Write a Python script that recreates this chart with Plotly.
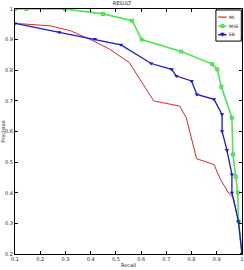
import plotly.graph_objects as go

title_text = "RESULT"
x_label = "Recall"
y_label = "Precision"

names = ["MI", "MSE", "EB"]
colors = ["#e3262b", "#4ee84e", "#1a1ad0"]

mi_recall = [0.1, 0.24, 0.32, 0.41, 0.475, 0.52, 0.553, 0.65, 0.753, 0.779, 0.82, 0.889, 0.915, 0.947, 0.966, 0.986, 1.0]
mi_precision = [0.953, 0.945, 0.929, 0.896, 0.869, 0.842, 0.825, 0.70, 0.683, 0.645, 0.511, 0.492, 0.443, 0.399, 0.383, 0.306, 0.2]

mse_recall = [0.1, 0.145, 0.298, 0.449, 0.565, 0.602, 0.759, 0.882, 0.902, 0.918, 0.96, 0.964, 0.975, 0.983, 0.986, 1.0]
mse_precision = [1.0, 1.0, 1.0, 0.984, 0.962, 0.90, 0.861, 0.82, 0.803, 0.746, 0.645, 0.525, 0.453, 0.401, 0.306, 0.2]

eb_recall = [0.1, 0.275, 0.417, 0.52, 0.64, 0.721, 0.74, 0.80, 0.821, 0.889, 0.921, 0.921, 0.94, 0.96, 0.96, 0.986, 1.0]
eb_precision = [0.953, 0.924, 0.902, 0.883, 0.822, 0.803, 0.781, 0.765, 0.721, 0.705, 0.656, 0.601, 0.54, 0.46, 0.40, 0.306, 0.2]

x_ticks = [0.1, 0.2, 0.3, 0.4, 0.5, 0.6, 0.7, 0.8, 0.9, 1.0]
x_tick_labels = ["0.1", "0.2", "0.3", "0.4", "0.5", "0.6", "0.7", "0.8", "0.9", "1"]
y_ticks = [0.2, 0.3, 0.4, 0.5, 0.6, 0.7, 0.8, 0.9, 1.0]
y_tick_labels = ["0.2", "0.3", "0.4", "0.5", "0.6", "0.7", "0.8", "0.9", "1"]

fig = go.Figure()
fig.add_trace(go.Scatter(x=mi_recall, y=mi_precision, name=names[0], mode="lines",
                         line=dict(color=colors[0], width=1)))
fig.add_trace(go.Scatter(x=mse_recall, y=mse_precision, name=names[1], mode="lines+markers",
                         line=dict(color=colors[1], width=1.6),
                         marker=dict(symbol="square-open", size=3, color="#3ad63a")))
fig.add_trace(go.Scatter(x=eb_recall, y=eb_precision, name=names[2], mode="lines+markers",
                         line=dict(color=colors[2], width=1.3),
                         marker=dict(symbol="triangle-down", size=4, color=colors[2])))

font = dict(family="DejaVu Sans", size=5, color="#222")
leg_font = dict(family="DejaVu Sans", size=4.5, color="#222")
axis_common = dict(showgrid=False, zeroline=False, showline=True, linecolor="black", linewidth=1,
                   mirror="ticks", ticks="inside", ticklen=3, tickcolor="black", tickfont=font)

# compact MATLAB-style legend box (paper coordinates)
shapes = [dict(type="rect", xref="paper", yref="paper", x0=0.885, x1=0.997, y0=0.869, y1=0.996,
               line=dict(color="black", width=1), fillcolor="white", layer="above")]
annotations = []
leg_y = [0.967, 0.930, 0.895]
for i, (nm, c) in enumerate(zip(names, colors)):
    yy = leg_y[i]
    shapes.append(dict(type="line", xref="paper", yref="paper", x0=0.895, x1=0.932, y0=yy, y1=yy,
                       line=dict(color=c, width=1.2 if i == 0 else 1.5), layer="above"))
    annotations.append(dict(text=nm, xref="paper", yref="paper", x=0.936, y=yy, xanchor="left",
                            yanchor="middle", showarrow=False, font=leg_font))
# legend marker glyphs
shapes.append(dict(type="rect", xref="paper", yref="paper", x0=0.908, x1=0.920, y0=leg_y[1] - 0.006,
                   y1=leg_y[1] + 0.006, line=dict(color="#3ad63a", width=1), layer="above"))
shapes.append(dict(type="path", xref="paper", yref="paper",
                   path=f"M 0.906 {leg_y[2] + 0.007} L 0.922 {leg_y[2] + 0.007} L 0.914 {leg_y[2] - 0.007} Z",
                   fillcolor=colors[2], line=dict(color=colors[2], width=0.5), layer="above"))

fig.update_layout(
    width=244, height=270,
    margin=dict(l=10, r=1, t=9, b=16),
    paper_bgcolor="white", plot_bgcolor="white",
    title=dict(text=title_text, x=0.5, xanchor="center", y=0.995, yanchor="top", font=font),
    xaxis=dict(range=[0.1, 1.0], tickvals=x_ticks, ticktext=x_tick_labels,
               title=dict(text=x_label, font=font, standoff=2), **axis_common),
    yaxis=dict(range=[0.2, 1.0], tickvals=y_ticks, ticktext=y_tick_labels,
               title=dict(text=y_label, font=font, standoff=1), **axis_common),
    showlegend=False,
    shapes=shapes,
    annotations=annotations,
)

fig.write_html("out.html")
